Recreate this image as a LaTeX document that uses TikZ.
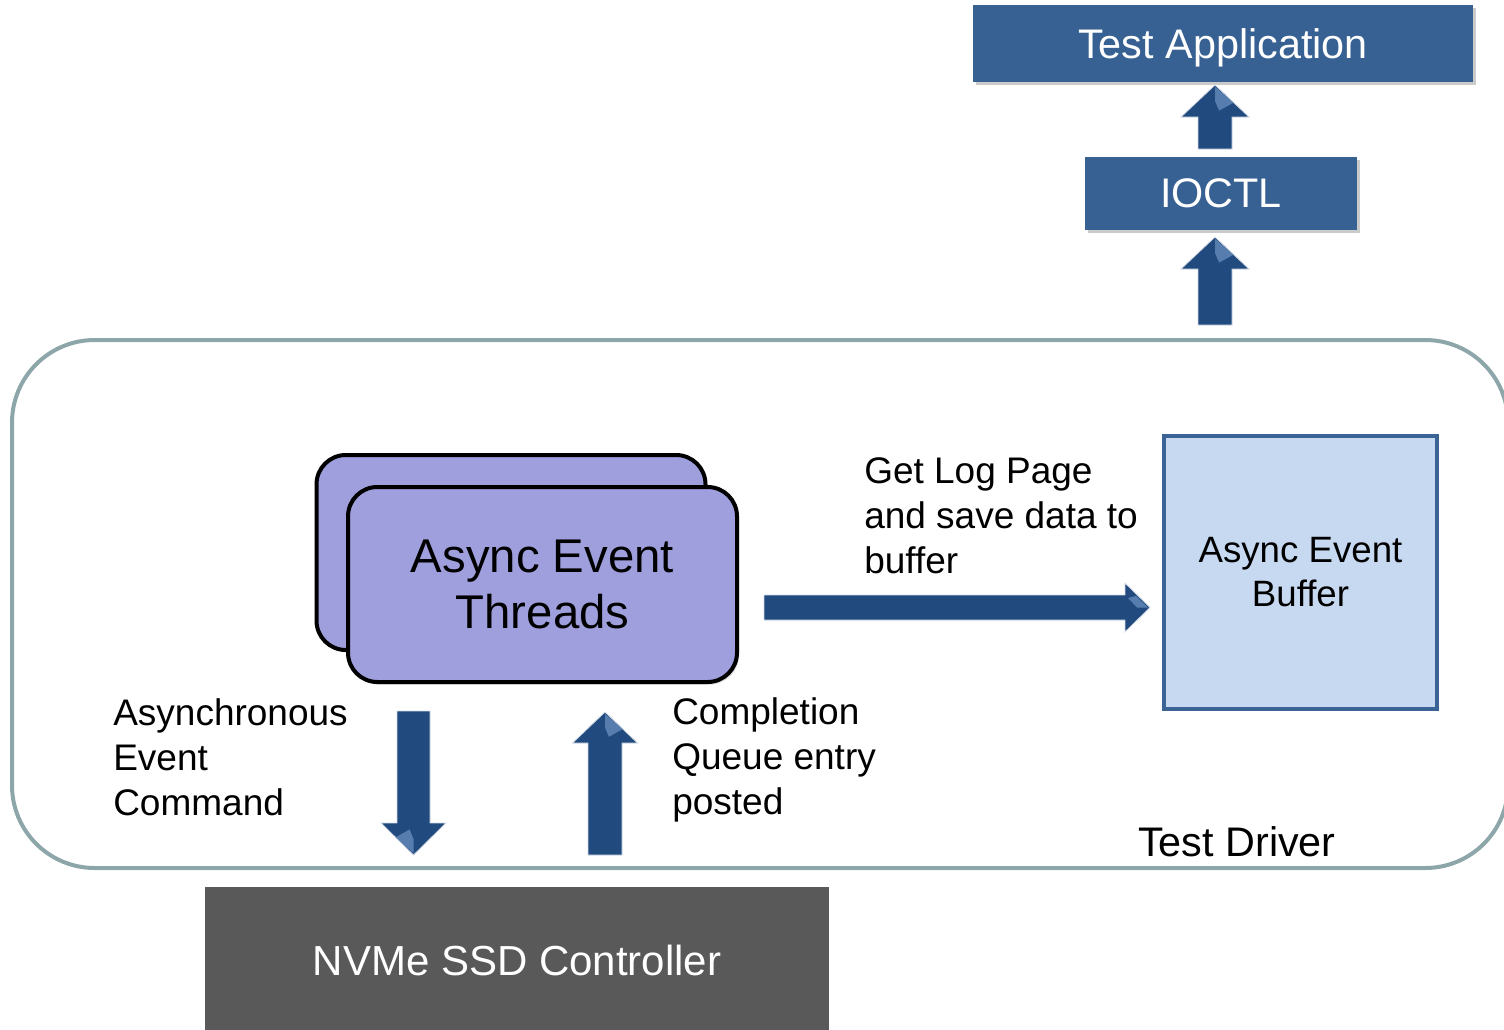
\documentclass[tikz,border=0pt]{standalone}
\usepackage{fontspec}
\setmainfont{Liberation Sans}
\usetikzlibrary{shadows}

\definecolor{appblue}{HTML}{386193}
\definecolor{arrowblue}{HTML}{214A7E}
\definecolor{facetblue}{HTML}{6A8FC0}
\definecolor{driveredge}{HTML}{8DA6A9}
\definecolor{threadfill}{HTML}{9F9FDE}
\definecolor{bufferfill}{HTML}{C6D9F0}
\definecolor{bufferedge}{HTML}{3B6396}
\definecolor{ssdgray}{HTML}{595959}

% vertical block arrow: centre x, tip y, head base y, tail y, half shaft, half head,
% side of the light facet on the head (1 = right, -1 = left)
\newcommand\vblockarrow[7]{%
  \fill[blockarrow] (#1-#5,#4) -- (#1-#5,#3) -- (#1-#6,#3) -- (#1,#2)
    -- (#1+#6,#3) -- (#1+#5,#3) -- (#1+#5,#4) -- cycle;
  \fill[facetblue,opacity=.75] (#1,#2+0.06*#3-0.06*#2) -- (#1+#7*0.55*#6,#2+0.55*#3-0.55*#2)
    -- (#1+#7*0.12*#6,#2+0.8*#3-0.8*#2) -- (#1,#2+0.5*#3-0.5*#2) -- cycle;
}

\begin{document}
\begin{tikzpicture}[x=0.75pt,y=-0.75pt,
  bluebox/.style={fill=appblue,text=white,inner sep=0pt,outer sep=0pt,text depth=0pt,
    font=\fontsize{31}{37}\selectfont,
    drop shadow={shadow xshift=2pt,shadow yshift=-2.5pt,opacity=.35,fill=black!60}},
  threadbox/.style={draw=black,line width=3pt,fill=threadfill,rounded corners=22pt,
    inner sep=0pt,minimum width=291.75pt,minimum height=146.25pt},
  label/.style={align=left,inner sep=0pt,font=\fontsize{27.75}{33.75}\selectfont},
  blockarrow/.style={fill=arrowblue,draw=white!80!arrowblue,line width=.6pt,line join=miter}]

\useasboundingbox (0,0) rectangle (1504,1029);

% test driver frame
\draw[driveredge,line width=3pt,rounded corners=62pt] (12,340) rectangle (1508,868);
\node[font=\fontsize{31}{37}\selectfont,inner sep=0pt] (driver) at (1237,842) {Test Driver};

% upper layers
\node[bluebox,minimum width=375pt,minimum height=57.75pt] (app) at (1223,43.5) {Test Application};
\node[bluebox,minimum width=204pt,minimum height=54.75pt] (ioctl) at (1221,193.5) {IOCTL};

% async event threads (stacked)
\node[threadbox,drop shadow={shadow xshift=1.5pt,shadow yshift=-2pt,opacity=.25}] (threadsback) at (511,552.5) {};
\node[threadbox,drop shadow={shadow xshift=1.5pt,shadow yshift=-2pt,opacity=.25},
  align=center,font=\fontsize{35.5}{42.5}\selectfont] (threads) at (542.5,584.5) {Async Event\\Threads};

% buffer
\node[draw=bufferedge,line width=3pt,fill=bufferfill,minimum width=204.75pt,minimum height=204.75pt,
  inner sep=0pt,align=center,font=\fontsize{27.5}{33}\selectfont] (buffer) at (1300.5,572.5) {Async Event\\Buffer};

% controller
\node[fill=ssdgray,text=white,minimum width=468pt,minimum height=109.5pt,inner sep=0pt,
  font=\fontsize{31.5}{38}\selectfont] (ssd) at (517,960) {NVMe SSD Controller};

% labels
\node[label,anchor=north west] (getlog) at (864,457) {Get Log Page\\and save data to\\buffer};
\node[label,anchor=north west] (aec) at (113,698) {Asynchronous\\Event\\Command};
\node[label,anchor=north west] (cqe) at (672,697) {Completion\\Queue entry\\posted};

% block arrows
\vblockarrow{1215}{85}{117}{149}{17}{34}{1}
\vblockarrow{1215}{237}{269}{325}{17}{34}{1}
\vblockarrow{413.5}{855}{823}{711}{16.5}{32.5}{-1}
\vblockarrow{605}{712}{743}{855}{17}{32.5}{1}
\fill[blockarrow] (764,595) -- (1125,595) -- (1125,583) -- (1150,607.5) -- (1125,632)
  -- (1125,620) -- (764,620) -- cycle;
\fill[facetblue,opacity=.75] (1148,607.5) -- (1136,596) -- (1128,598) -- (1137,607.5) -- cycle;

\end{tikzpicture}
\end{document}
